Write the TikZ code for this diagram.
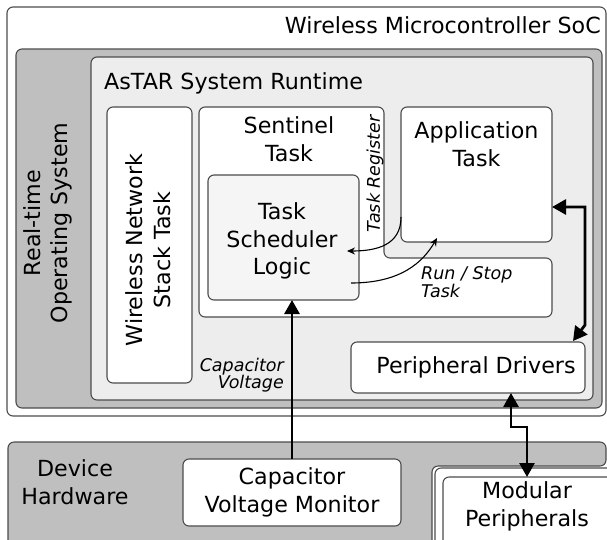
\documentclass[tikz,border=0pt]{standalone}
\usepackage{fontspec}
\setmainfont{DejaVu Sans}
\usetikzlibrary{arrows.meta}
\begin{document}
\begin{tikzpicture}[x=1pt,y=-1pt,
  frame/.style={draw=black!70, line width=1.1pt, rounded corners=6pt},
  boxnode/.style={frame, rectangle, inner sep=0pt, outer sep=0pt},
  lbl/.style={inner sep=0pt, font=\fontsize{22.2}{27.5}\selectfont},
  smalllbl/.style={inner sep=0pt, font=\fontsize{17.5}{17.5}\selectfont\itshape},
  thickarrow/.style={line width=2.8pt, {Triangle[length=14pt,width=15pt]}-{Triangle[length=14pt,width=15pt]}},
  uparrow/.style={line width=2.8pt, -{Triangle[length=14pt,width=15pt]}},
  thinarrow/.style={line width=1.1pt, -{Stealth[length=8pt,width=7pt]}}]
\useasboundingbox (0,0) rectangle (607,539);
\clip (0,0) rectangle (607,539);

% SoC and its software layers
\node[boxnode, fill=white, minimum width=599pt, minimum height=409pt] (soc) at (306.5,211.5) {};
\node[boxnode, fill=black!25, minimum width=586pt, minimum height=359pt] (rtos) at (309,228.5) {};
\node[boxnode, fill=black!7, minimum width=502pt, minimum height=343pt] (astar) at (342,228.5) {};

\node[lbl, anchor=base east] (soclbl) at (601,33) {Wireless Microcontroller SoC};
\node[lbl, anchor=base west] (astarlbl) at (104,89) {AsTAR System Runtime};
\node[lbl, rotate=90, align=center] (rtoslbl) at (48,223) {Real-time\\Operating System};

% tasks
\node[boxnode, fill=white, minimum width=85pt, minimum height=276pt] (wns) at (149.5,245) {};
\node[lbl, rotate=90, align=center] (wnslbl) at (148,250) {Wireless Network\\Stack Task};

\draw[frame, fill=white] (199,107) -- (384,107) -- (384,258) -- (552,258) -- (552,317) -- (199,317) -- cycle;
\node[lbl, align=center] (sentlbl) at (289,139) {Sentinel\\Task};

\node[boxnode, fill=white, minimum width=151pt, minimum height=135pt] (app) at (476.5,174.5) {};
\node[lbl, align=center] (applbl) at (476.5,144) {Application\\Task};

\node[boxnode, fill=black!4, minimum width=151pt, minimum height=125pt] (sched) at (283.5,237.5) {};
\node[lbl, align=center] (schedlbl) at (282,241) {Task\\Scheduler\\Logic};

\node[smalllbl, rotate=90] (reglbl) at (375,174) {Task Register};
\node[smalllbl, anchor=west, align=left] (runlbl) at (421,282) {Run / Stop\\Task};

\node[boxnode, fill=white, minimum width=234pt, minimum height=51pt] (pd) at (468,367.5) {};
\node[lbl] (pdlbl) at (476,367.5) {Peripheral Drivers};

% hardware
\draw[frame, fill=black!25] (8,600) -- (8,442) -- (606,442) -- (606,466) -- (432,466) -- (432,600) -- cycle;
\node[lbl, align=center] (devlbl) at (75,482) {Device\\Hardware};
\node[boxnode, fill=white, minimum width=218pt, minimum height=67pt, align=center, lbl] (cvm) at (292,492.5) {Capacitor\\Voltage Monitor};

\draw[frame, fill=white] (435,600) -- (435,468) -- (660,468) -- (660,600) -- cycle;
\node[boxnode, fill=white, minimum width=207pt, minimum height=123pt] (mod) at (546.5,538.5) {};
\node[lbl, align=center] (modlbl) at (527,506.5) {Modular\\Peripherals};

% connectors
\draw[uparrow] (cvm.north) -- (cvm.north |- sched.south);
\node[smalllbl, anchor=east, align=right] (caplbl) at (284,375) {Capacitor\\Voltage};

\draw[thickarrow] ([yshift=-32.5pt]app.east) -- ++(33,0) -- ++(0,118) -- ([xshift=-12pt,yshift=1pt]pd.north east);
\draw[thickarrow] ([xshift=43pt]pd.south) -- ++(0,34) -| (modlbl.north |- mod.north);

\draw[thinarrow] ([yshift=-42.5pt]app.west) .. controls +(0,28) and +(30,0) .. ([xshift=-12pt,yshift=-13.5pt]sched.east);
\draw[thinarrow] ([xshift=-8pt,yshift=-45.5pt]sched.east) .. controls +(50,0) and +(-14,24) .. ([xshift=-39.5pt,yshift=4pt]app.south);
\end{tikzpicture}
\end{document}
